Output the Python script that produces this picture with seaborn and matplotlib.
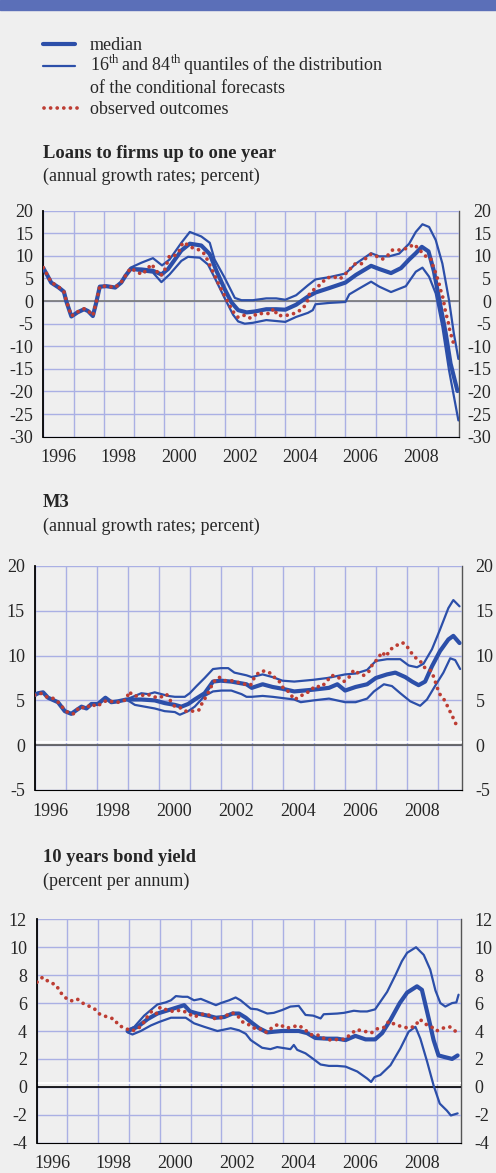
import numpy as np
import matplotlib
matplotlib.use("Agg")
import matplotlib.pyplot as plt
from matplotlib.lines import Line2D
from matplotlib.patches import Rectangle
import seaborn as sns

# ---------------- loans to firms up to one year ----------------
loans_med_t = [1996.0, 1996.15, 1996.26, 1996.51, 1996.68, 1996.76, 1996.84, 1996.93, 1997.13, 1997.35,
               1997.48, 1997.64, 1997.75, 1997.87, 1998.09, 1998.38, 1998.58, 1998.72, 1998.89, 1999.25,
               1999.63, 1999.91, 2000.13, 2000.57, 2000.85, 2001.23, 2001.51, 2001.73, 2002.0, 2002.23,
               2002.45, 2002.73, 2003.0, 2003.38, 2003.71, 2004.01, 2004.37, 2004.76, 2005.01, 2005.47,
               2006.0, 2006.35, 2006.85, 2007.12, 2007.51, 2007.84, 2008.11, 2008.33, 2008.53, 2008.75,
               2008.93, 2009.15, 2009.32, 2009.48, 2009.71]
loans_med = [7.3, 5.5, 4.1, 3.0, 2.1, 0.0, -1.6, -3.4, -2.5, -1.8,
             -2.2, -3.3, -0.4, 3.2, 3.3, 3.0, 4.1, 5.6, 7.1, 7.0,
             6.7, 5.9, 7.1, 11.2, 12.7, 12.3, 10.4, 6.7, 2.7, -0.3,
             -2.0, -2.5, -2.3, -1.8, -1.8, -1.9, -0.8, 1.0, 1.9, 2.9,
             4.1, 5.8, 7.8, 7.1, 6.2, 7.3, 9.2, 10.6, 12.0, 11.0,
             6.6, -1.2, -7.1, -13.8, -19.9]

loans_hi_t = [1998.89, 1999.25, 1999.63, 1999.93, 2000.18, 2000.57, 2000.85, 2001.23, 2001.51, 2001.67,
              2002.0, 2002.34, 2002.56, 2002.94, 2003.38, 2003.71, 2004.01, 2004.37, 2004.76, 2005.01,
              2005.47, 2006.0, 2006.35, 2006.85, 2007.12, 2007.45, 2007.78, 2008.11, 2008.33, 2008.55,
              2008.77, 2008.99, 2009.21, 2009.43, 2009.59, 2009.74]
loans_hi = [7.4, 8.5, 9.5, 7.9, 9.2, 12.9, 15.3, 14.3, 12.9, 9.2,
            5.2, 0.7, 0.2, 0.2, 0.6, 0.6, 0.3, 1.3, 3.5, 4.8,
            5.3, 6.1, 8.3, 10.6, 9.9, 9.9, 10.5, 12.7, 15.3, 17.0,
            16.4, 13.5, 8.3, 0.2, -7.2, -12.8]

loans_lo_t = [1998.89, 1999.25, 1999.63, 1999.91, 2000.18, 2000.57, 2000.79, 2001.18, 2001.45, 2001.67,
              2002.0, 2002.28, 2002.45, 2002.67, 2002.94, 2003.38, 2004.01, 2004.37, 2004.76, 2004.92,
              2005.01, 2005.47, 2006.0, 2006.13, 2006.46, 2006.85, 2007.12, 2007.51, 2008.0, 2008.33,
              2008.55, 2008.77, 2008.99, 2009.21, 2009.43, 2009.74]
loans_lo = [7.1, 6.6, 6.3, 4.2, 5.9, 8.9, 9.8, 9.6, 8.1, 5.2,
            0.7, -3.0, -4.5, -5.0, -4.8, -4.2, -4.6, -3.5, -2.6, -2.0,
            -0.7, -0.4, -0.2, 1.5, 2.8, 4.3, 3.2, 2.0, 3.3, 6.5,
            7.4, 5.4, 1.7, -5.7, -15.3, -26.4]

loans_obs_t = [1996.0, 1996.15, 1996.26, 1996.51, 1996.68, 1996.76, 1996.84, 1996.93, 1997.13, 1997.35,
               1997.48, 1997.64, 1997.75, 1997.87, 1998.09, 1998.38, 1998.58, 1998.72, 1998.89, 1999.11,
               1999.28, 1999.47, 1999.58, 1999.74, 1999.89, 2000.02, 2000.18, 2000.35, 2000.51, 2000.62,
               2000.79, 2000.96, 2001.18, 2001.34, 2001.56, 2001.78, 2002.0, 2002.17, 2002.34, 2002.45,
               2002.67, 2002.86, 2003.09, 2003.33, 2003.52, 2003.63, 2003.75, 2003.99, 2004.21, 2004.43,
               2004.59, 2004.74, 2004.81, 2004.98, 2005.20, 2005.36, 2005.60, 2005.82, 2005.97, 2006.13,
               2006.30, 2006.52, 2006.68, 2006.85, 2007.07, 2007.23, 2007.40, 2007.56, 2007.76, 2007.95,
               2008.11, 2008.27, 2008.46, 2008.64, 2008.82, 2008.90, 2008.99, 2009.08, 2009.15, 2009.23,
               2009.32, 2009.40, 2009.45, 2009.52, 2009.59]
loans_obs = [7.4, 5.6, 4.2, 3.1, 2.2, 0.1, -1.5, -3.3, -2.4, -1.7,
             -2.1, -3.2, -0.3, 3.3, 3.3, 3.0, 4.2, 5.6, 7.3, 6.4,
             5.9, 7.3, 8.2, 6.7, 5.6, 6.9, 10.1, 10.1, 11.2, 13.0,
             12.4, 11.7, 11.3, 10.4, 7.3, 4.1, 1.2, -1.0, -2.9, -3.6,
             -3.1, -3.8, -2.7, -2.8, -2.7, -1.6, -3.2, -3.2, -3.0, -2.3,
             -1.7, -0.1, 1.6, 2.7, 3.8, 5.1, 5.4, 4.9, 5.8, 6.9,
             8.2, 8.2, 9.5, 10.4, 9.8, 9.3, 10.1, 11.3, 11.3, 11.5,
             11.9, 12.6, 11.3, 10.0, 9.5, 7.8, 6.2, 4.4, 2.5, 0.7,
             -2.6, -4.5, -6.3, -8.0, -9.6]

# ---------------- M3 ----------------
m3_med_t = [1996.0, 1996.11, 1996.27, 1996.43, 1996.75, 1996.97, 1997.18, 1997.34, 1997.51, 1997.67,
            1997.83, 1998.04, 1998.28, 1998.47, 1998.69, 1998.96, 1999.44, 1999.87, 2000.19, 2000.52,
            2000.73, 2000.95, 2001.16, 2001.48, 2001.75, 2002.0, 2002.34, 2002.83, 2003.0, 2003.35,
            2003.67, 2003.99, 2004.37, 2004.99, 2005.49, 2005.76, 2006.01, 2006.35, 2006.72, 2007.0,
            2007.36, 2007.63, 2007.95, 2008.17, 2008.38, 2008.59, 2008.81, 2009.07, 2009.34, 2009.50,
            2009.70]
m3_med = [5.6, 5.8, 5.9, 5.3, 4.8, 3.8, 3.5, 3.9, 4.3, 4.1,
          4.6, 4.6, 5.3, 4.8, 4.9, 5.1, 5.1, 5.0, 4.7, 4.5,
          4.3, 4.6, 5.1, 5.8, 7.1, 7.2, 7.1, 6.8, 6.4, 6.8,
          6.5, 6.3, 6.0, 6.2, 6.4, 6.8, 6.1, 6.5, 6.8, 7.5,
          7.9, 8.1, 7.6, 7.1, 6.7, 7.1, 8.8, 10.5, 11.8, 12.2,
          11.4]

m3_hi_t = [1998.96, 1999.23, 1999.44, 1999.66, 1999.87, 2000.09, 2000.30, 2000.52, 2000.84, 2001.0,
           2001.22, 2001.48, 2001.75, 2002.0, 2002.24, 2002.44, 2002.83, 2003.0, 2003.35, 2003.67,
           2003.99, 2004.37, 2004.99, 2005.44, 2006.01, 2006.35, 2006.72, 2007.0, 2007.36, 2007.79,
           2008.06, 2008.33, 2008.54, 2008.81, 2009.07, 2009.34, 2009.50, 2009.70]
m3_hi = [5.1, 5.5, 5.8, 5.7, 5.9, 5.7, 5.5, 5.4, 5.4, 5.8,
         6.6, 7.5, 8.5, 8.6, 8.6, 8.1, 7.8, 7.6, 7.9, 7.6,
         7.2, 7.1, 7.3, 7.5, 7.9, 8.0, 8.4, 9.4, 9.6, 9.6,
         8.9, 8.7, 9.1, 10.7, 12.9, 15.3, 16.2, 15.5]

m3_lo_t = [1998.96, 1999.23, 1999.55, 1999.87, 2000.19, 2000.52, 2000.68, 2000.95, 2001.16, 2001.48,
           2001.75, 2002.02, 2002.34, 2002.67, 2002.83, 2003.0, 2003.35, 2003.67, 2004.37, 2004.58,
           2004.99, 2005.49, 2006.01, 2006.35, 2006.72, 2006.94, 2007.26, 2007.52, 2007.79, 2008.11,
           2008.43, 2008.65, 2008.91, 2009.18, 2009.40, 2009.56, 2009.72]
m3_lo = [5.1, 4.5, 4.3, 4.1, 3.8, 3.7, 3.4, 3.8, 4.3, 5.5,
         6.0, 6.1, 6.1, 5.7, 5.4, 5.4, 5.5, 5.4, 5.1, 4.8,
         5.0, 5.2, 4.8, 4.8, 5.2, 6.0, 6.8, 6.6, 5.8, 4.9,
         4.4, 5.1, 6.6, 8.1, 9.7, 9.5, 8.5]

m3_obs_t = [1996.0, 1996.19, 1996.38, 1996.56, 1996.73, 1996.88, 1997.08, 1997.27, 1997.45, 1997.65,
            1997.83, 1998.0, 1998.20, 1998.34, 1998.58, 1998.74, 1998.96, 1999.04, 1999.18, 1999.39,
            1999.63, 1999.82, 2000.03, 2000.25, 2000.39, 2000.52, 2000.68, 2000.86, 2001.08, 2001.29,
            2001.40, 2001.54, 2001.65, 2001.75, 2001.94, 2002.15, 2002.34, 2002.56, 2002.79, 2002.96,
            2003.09, 2003.25, 2003.44, 2003.62, 2003.75, 2003.89, 2004.03, 2004.23, 2004.35, 2004.51,
            2004.71, 2004.88, 2005.03, 2005.25, 2005.41, 2005.58, 2005.78, 2005.97, 2006.17, 2006.29,
            2006.45, 2006.61, 2006.80, 2006.90, 2007.06, 2007.20, 2007.33, 2007.47, 2007.63, 2007.77,
            2007.90, 2008.03, 2008.17, 2008.27, 2008.43, 2008.59, 2008.79, 2008.89, 2009.04, 2009.20,
            2009.32, 2009.43, 2009.53, 2009.64]
m3_obs = [5.6, 5.8, 5.4, 5.3, 4.9, 4.3, 3.6, 3.5, 4.3, 4.1,
          4.6, 4.3, 4.8, 5.0, 4.8, 4.8, 5.1, 6.0, 5.5, 5.5,
          5.7, 5.4, 5.3, 5.7, 4.9, 4.3, 4.2, 3.8, 3.8, 3.9,
          4.7, 5.5, 6.2, 7.0, 7.6, 7.2, 7.2, 7.0, 6.8, 6.7,
          7.6, 8.2, 8.3, 8.0, 7.5, 7.1, 6.3, 5.9, 5.1, 5.3,
          5.8, 6.0, 6.6, 6.5, 7.1, 7.8, 7.6, 7.1, 7.7, 8.4,
          8.0, 7.8, 8.3, 9.1, 9.6, 10.4, 9.9, 10.7, 11.0, 11.4,
          11.4, 10.9, 10.2, 9.8, 9.4, 8.6, 8.3, 7.4, 5.8, 5.1,
          4.3, 3.5, 2.8, 1.9]

# ---------------- 10 years bond yield ----------------
bond_med_t = [1998.95, 1999.28, 1999.6, 1999.92, 2000.36, 2000.79, 2000.98, 2001.22, 2001.55, 2001.82,
              2002.09, 2002.36, 2002.57, 2002.79, 2002.95, 2003.22, 2003.49, 2003.70, 2003.97, 2004.24,
              2004.51, 2004.78, 2005.05, 2005.43, 2005.76, 2006.03, 2006.35, 2006.68, 2006.99, 2007.22,
              2007.49, 2007.79, 2008.03, 2008.35, 2008.51, 2008.73, 2008.89, 2009.05, 2009.22, 2009.49,
              2009.67]
bond_med = [4.0, 4.3, 4.85, 5.25, 5.55, 5.85, 5.4, 5.25, 5.1, 4.95,
            5.0, 5.25, 5.25, 4.95, 4.65, 4.2, 3.9, 3.95, 4.0, 4.0,
            4.0, 3.85, 3.5, 3.45, 3.45, 3.35, 3.65, 3.4, 3.4, 3.85,
            4.8, 6.0, 6.75, 7.2, 6.95, 4.9, 3.35, 2.25, 2.15, 2.0,
            2.25]

bond_hi_t = [1998.95, 1999.17, 1999.49, 1999.92, 2000.19, 2000.36, 2000.52, 2000.74, 2000.90, 2001.11,
             2001.33, 2001.55, 2001.82, 2001.98, 2002.25, 2002.46, 2002.62, 2002.95, 2003.16, 2003.49,
             2003.70, 2003.97, 2004.24, 2004.51, 2004.73, 2004.98, 2005.22, 2005.32, 2005.76, 2005.98,
             2006.30, 2006.51, 2006.73, 2006.99, 2007.38, 2007.65, 2007.86, 2008.03, 2008.32, 2008.57,
             2008.78, 2008.95, 2009.11, 2009.27, 2009.49, 2009.63, 2009.70]
bond_hi = [4.07, 4.3, 5.1, 5.9, 6.05, 6.2, 6.5, 6.45, 6.45, 6.2,
           6.3, 6.1, 5.85, 6.0, 6.2, 6.4, 6.2, 5.6, 5.55, 5.25,
           5.3, 5.5, 5.75, 5.8, 5.15, 5.1, 4.9, 5.2, 5.25, 5.3,
           5.45, 5.4, 5.4, 5.55, 6.8, 8.0, 9.0, 9.6, 10.0, 9.45,
           8.4, 6.9, 6.0, 5.75, 6.0, 6.05, 6.6]

bond_lo_t = [1998.95, 1999.11, 1999.38, 1999.71, 1999.98, 2000.36, 2000.84, 2001.11, 2001.44, 2001.87,
             2002.30, 2002.57, 2002.79, 2002.95, 2003.32, 2003.59, 2003.81, 2004.24, 2004.35, 2004.46,
             2004.73, 2004.98, 2005.22, 2005.49, 2005.76, 2006.03, 2006.41, 2006.73, 2006.86, 2006.97,
             2007.16, 2007.49, 2007.81, 2008.08, 2008.30, 2008.46, 2008.68, 2008.89, 2009.09, 2009.32,
             2009.45, 2009.67]
bond_lo = [3.9, 3.75, 4.0, 4.4, 4.65, 4.95, 4.95, 4.55, 4.3, 4.0,
           4.2, 4.05, 3.8, 3.35, 2.8, 2.7, 2.85, 2.7, 3.0, 2.65,
           2.4, 2.0, 1.6, 1.5, 1.5, 1.45, 1.1, 0.6, 0.35, 0.7,
           0.85, 1.55, 2.75, 3.95, 4.3, 3.45, 1.8, 0.1, -1.2, -1.7,
           -2.05, -1.9]

bond_obs_t = [1996.01, 1996.19, 1996.41, 1996.63, 1996.76, 1996.92, 1997.11, 1997.31, 1997.49, 1997.68,
              1997.87, 1998.05, 1998.30, 1998.52, 1998.66, 1998.88, 1999.06, 1999.24, 1999.42, 1999.55,
              1999.73, 1999.87, 2000.01, 2000.23, 2000.44, 2000.68, 2000.90, 2001.11, 2001.33, 2001.55,
              2001.76, 2001.92, 2002.14, 2002.36, 2002.56, 2002.71, 2002.95, 2003.13, 2003.29, 2003.46,
              2003.65, 2003.86, 2004.11, 2004.30, 2004.52, 2004.73, 2004.95, 2005.18, 2005.37, 2005.59,
              2005.79, 2005.99, 2006.19, 2006.38, 2006.62, 2006.86, 2007.05, 2007.27, 2007.44, 2007.65,
              2007.88, 2008.09, 2008.29, 2008.44, 2008.62, 2008.82, 2008.98, 2009.18, 2009.41, 2009.59]
bond_obs = [7.5, 7.85, 7.5, 7.3, 6.8, 6.4, 6.15, 6.3, 6.0, 5.8,
            5.6, 5.2, 5.0, 4.85, 4.4, 4.2, 4.0, 4.1, 4.4, 4.9,
            5.4, 5.2, 5.7, 5.5, 5.4, 5.5, 5.3, 5.0, 5.2, 5.2,
            4.9, 4.9, 5.1, 5.3, 5.0, 4.6, 4.4, 4.1, 4.15, 3.9,
            4.25, 4.5, 4.2, 4.3, 4.4, 4.05, 3.7, 3.7, 3.4, 3.35,
            3.4, 3.4, 3.75, 4.1, 4.0, 3.85, 4.15, 4.25, 4.7, 4.45,
            4.3, 4.2, 4.35, 4.85, 4.5, 4.3, 4.0, 4.2, 4.3, 4.0]

years = list(range(1996, 2010))
year_labels = [str(y) for y in range(1996, 2010, 2)]

BLUE = "#2c4fa9"
RED = "#bd3d33"
GRID = "#aab0e4"
BG = "#efefef"
W, H = 496, 1173
DOTS = (0, (0.01, 1.75))

sns.set_style("white")
plt.rcParams["font.family"] = ["Liberation Serif", "DejaVu Serif"]
plt.rcParams["mathtext.fontset"] = "custom"
plt.rcParams["mathtext.rm"] = "Liberation Serif"
plt.rcParams["axes.unicode_minus"] = False

fig = plt.figure(figsize=(W / 100, H / 100), dpi=100, facecolor=BG)


def fx(px):
    return px / W


def fy(py):
    return 1 - py / H


# header band
fig.patches.append(Rectangle((0, fy(9.5)), 1, 9.5 / H, transform=fig.transFigure,
                             color="#5b6fb8", zorder=0))

# legend, drawn by hand
fig.add_artist(Line2D([fx(43), fx(75)], [fy(43.7), fy(43.7)], color=BLUE, lw=3.0))
fig.add_artist(Line2D([fx(43), fx(75)], [fy(65.7), fy(65.7)], color=BLUE, lw=1.6))
fig.add_artist(Line2D([fx(44), fx(78)], [fy(108.3), fy(108.3)], color=RED, lw=2.7,
                      linestyle=DOTS, dash_capstyle="round"))
fs = 13
fig.text(fx(89.5), fy(49.5), "median", fontsize=fs, va="baseline")
fig.text(fx(89.5), fy(71), r"16$^{\rm th}\,$and 84$^{\rm th}\,$quantiles of the distribution",
         fontsize=fs, va="baseline")
fig.text(fx(89.5), fy(92.7), "of the conditional forecasts", fontsize=fs, va="baseline")
fig.text(fx(89.5), fy(114), "observed outcomes", fontsize=fs, va="baseline")


def panel(rect, title, sub, title_y, series, ylim, ystep, zero_color, white_off, right_ha, rpad):
    left, top, right, bottom = rect
    ax = fig.add_axes([fx(left), fy(bottom), fx(right - left), (bottom - top) / H])
    ax.set_facecolor(BG)
    fig.text(fx(43), fy(title_y), title, fontsize=13.3, fontweight="bold", va="baseline")
    fig.text(fx(43), fy(title_y + 23.5), sub, fontsize=fs, va="baseline")

    yt = np.arange(ylim[0], ylim[1] + 0.1, ystep)
    ax.set_xlim(1996, 2009.77)
    ax.set_ylim(*ylim)
    ax.set_yticks(yt)
    ax.set_xticks(years)
    ax.set_xticks([y + 0.5 for y in range(1996, 2010, 2)], labels=year_labels, minor=True)
    ax.grid(True, which="major", color=GRID, lw=1.0, zorder=0)
    ax.set_axisbelow(True)
    if white_off:
        ax.axhline(white_off, color="white", lw=1.3, zorder=1)
    ax.axhline(0, color=zero_color, lw=1.2, zorder=1.5)

    (mt, mv), (ht, hv), (lt, lv), (ot, ov) = series
    sns.lineplot(x=ht, y=hv, ax=ax, color=BLUE, lw=1.6, errorbar=None, zorder=3)
    sns.lineplot(x=lt, y=lv, ax=ax, color=BLUE, lw=1.6, errorbar=None, zorder=3)
    sns.lineplot(x=mt, y=mv, ax=ax, color=BLUE, lw=3.0, errorbar=None, zorder=4)
    sns.lineplot(x=ot, y=ov, ax=ax, color=RED, lw=2.7, errorbar=None, zorder=5,
                 linestyle=DOTS, dash_capstyle="round")
    ax.set_xlabel("")
    ax.set_ylabel("")

    ax.tick_params(axis="x", which="major", direction="out", length=4, width=1.1,
                   color="black", labelbottom=False)
    ax.tick_params(axis="x", which="minor", length=0, pad=9, labelsize=fs)
    ax.tick_params(axis="y", length=0, pad=7, labelsize=fs, labelleft=True)

    sec = ax.secondary_yaxis("right")
    sec.set_yticks(yt)
    sec.tick_params(axis="y", length=0, pad=rpad, labelsize=fs)
    for lab in sec.get_yticklabels():
        lab.set_horizontalalignment(right_ha)
    sec.spines["right"].set_color("#555555")
    sec.spines["right"].set_linewidth(1.0)

    ax.spines["left"].set_color("black")
    ax.spines["left"].set_linewidth(1.3)
    ax.spines["right"].set_visible(False)
    ax.spines["top"].set_visible(False)
    ax.spines["bottom"].set_color("black")
    ax.spines["bottom"].set_linewidth(0.8)
    return ax


panel((43.3, 210.7, 459.3, 436.7), "Loans to firms up to one year", "(annual growth rates; percent)",
      157.7,
      [(loans_med_t, loans_med), (loans_hi_t, loans_hi), (loans_lo_t, loans_lo), (loans_obs_t, loans_obs)],
      (-30, 20), 5, "#777777", None, "right", 23)

panel((34.7, 566, 461.7, 790), "M3", "(annual growth rates; percent)", 507,
      [(m3_med_t, m3_med), (m3_hi_t, m3_hi), (m3_lo_t, m3_lo), (m3_obs_t, m3_obs)],
      (-5, 20), 5, "#555555", 0.4, "left", 10)

panel((36.7, 919.3, 460.7, 1142.7), "10 years bond yield", "(percent per annum)", 862,
      [(bond_med_t, bond_med), (bond_hi_t, bond_hi), (bond_lo_t, bond_lo), (bond_obs_t, bond_obs)],
      (-4, 12), 2, "black", 0.28, "left", 10)

fig.savefig("out.png", dpi=100, facecolor=BG)
